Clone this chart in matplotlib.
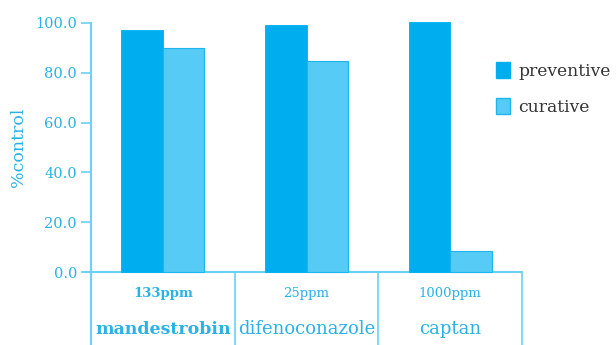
import matplotlib
matplotlib.use("Agg")
import matplotlib.pyplot as plt
import numpy as np
from matplotlib.patches import Patch

fungicides = ["mandestrobin", "difenoconazole", "captan"]
doses = ["133ppm", "25ppm", "1000ppm"]
preventive = [97.2, 99.2, 100.3]
curative = [89.9, 84.7, 8.4]
yticks = [0, 20, 40, 60, 80, 100]

c_prev = "#00AEEF"
c_cur = "#56CBF5"
c_edge = "#1DB5EC"
c_axis = "#6DD0F5"
c_text = "#29B2E6"

plt.rcParams["font.family"] = ["DejaVu Serif"]

fig = plt.figure(figsize=(6.16, 3.45), dpi=100)
W, H = 616, 345
x0, x1, ytop, ybot = 91, 522, 23, 272
ax = fig.add_axes([x0 / W, (H - ybot) / H, (x1 - x0) / W, (ybot - ytop) / H])

x = np.arange(len(fungicides))
bw = 0.29
ax.bar(x - bw / 2, preventive, bw, color=c_prev, edgecolor=c_prev, linewidth=0.6, clip_on=False, zorder=3)
ax.bar(x + bw / 2, curative, bw, color=c_cur, edgecolor=c_edge, linewidth=0.8, clip_on=False, zorder=3)

ax.set_xlim(-0.5, len(fungicides) - 0.5)
ax.set_ylim(0, 100)
for s in ["top", "right", "left"]:
    ax.spines[s].set_visible(False)
ax.spines["bottom"].set_color(c_axis)
ax.spines["bottom"].set_linewidth(1.5)

ax.set_xticks([])
ax.set_yticks(yticks)
ax.set_yticklabels([f"{v:.1f}" for v in yticks], fontsize=10.5, color=c_text)
ax.tick_params(axis="y", direction="out", length=7, width=1.2, color=c_axis, pad=3)

trans = ax.get_xaxis_transform()
bottom = -0.295
# vertical axis line and group separators running into the label area
ax.plot([-0.5, -0.5], [bottom, 1.0], transform=trans, color=c_axis, lw=1.5, clip_on=False, zorder=4)
for b in [0.5, 1.5, 2.5]:
    ax.plot([b, b], [bottom, 0], transform=trans, color=c_axis, lw=1.2, clip_on=False, zorder=4)
# short extension of the baseline to the left
ax.plot([-0.55, -0.5], [0, 0], transform=trans, color=c_axis, lw=1.5, clip_on=False)

for i, (d, f) in enumerate(zip(doses, fungicides)):
    wt = "bold" if i == 0 else "normal"
    ax.text(i, -0.085, d, transform=trans, ha="center", va="center",
            fontsize=9.5, color=c_text, fontweight=wt)
    ax.text(i, -0.23, f, transform=trans, ha="center", va="center",
            fontsize=12.5 if i == 0 else 13, color=c_text, fontweight=wt)

fig.text(18 / W, 1 - 147 / H, "%control", rotation=90, ha="center", va="center",
         fontsize=12.5, color=c_text)

handles = [Patch(facecolor=c_prev, edgecolor=c_prev), Patch(facecolor=c_cur, edgecolor=c_edge)]
fig.legend(handles, ["preventive", "curative"], loc="upper left",
           bbox_to_anchor=(489 / W, 1 - 55 / H), frameon=False, fontsize=12.3,
           labelcolor="#333333", handlelength=0.85, handleheight=1.1,
           handletextpad=0.45, labelspacing=1.05, borderaxespad=0.0)

fig.savefig("out.png", dpi=100)
